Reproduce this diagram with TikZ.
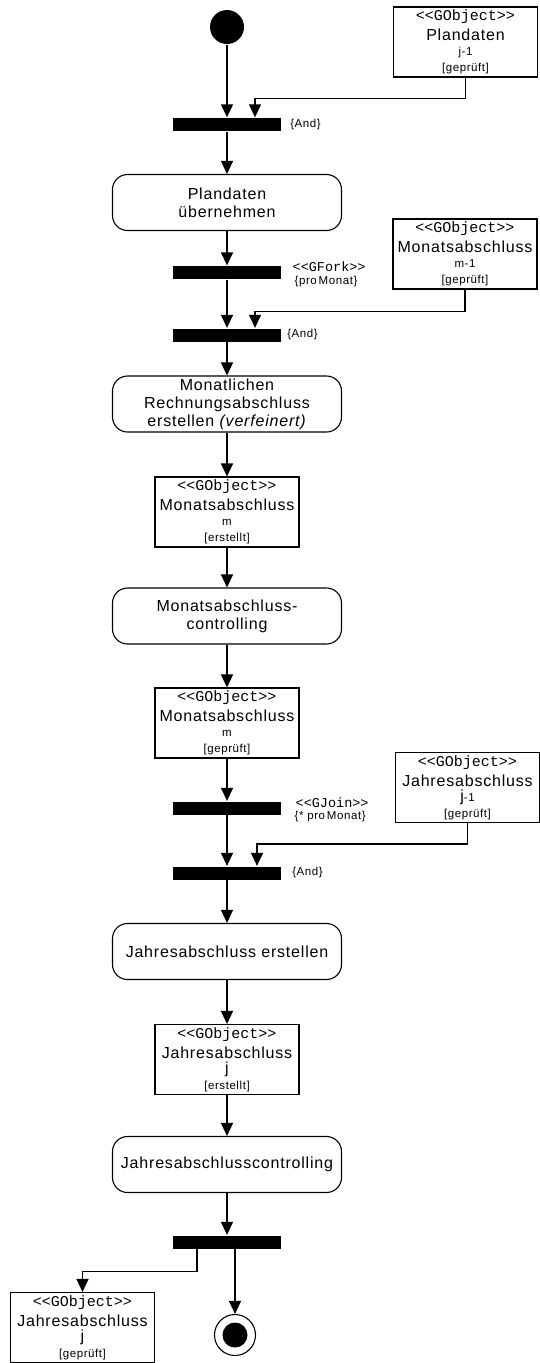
\documentclass[tikz,border=0pt]{standalone}
\usepackage{fontspec}
\setmainfont{Liberation Sans}[LetterSpace=5]
\newfontfamily\gmono{Liberation Mono}
\usetikzlibrary{arrows.meta,positioning}
\newcommand\stereo[1]{{\gmono<{}<#1>{}>}}
\newcommand\gbig{\fontsize{16}{16}\selectfont}
\newcommand\gst{\fontsize{15}{15}\selectfont}

\begin{document}
\begin{tikzpicture}[x=1pt, y=-1pt, line width=1.3pt, >={Triangle[width=12pt,length=13pt]},
	act/.style={draw, line width=1.1pt, rounded corners=15pt, minimum width=229pt, minimum height=56pt, inner sep=2pt, align=center, font=\fontsize{16}{18}\selectfont},
	obj/.style={draw, line width=1.1pt, minimum width=144pt, minimum height=70pt, inner sep=0pt, align=center, font=\fontsize{11.5}{15}\selectfont},
	bar/.style={fill, minimum width=108pt, minimum height=13pt, inner sep=0pt},
	lbl/.style={font=\fontsize{11.5}{13}\selectfont, inner sep=0pt, anchor=west}]
		\useasboundingbox (0,0) rectangle (540,1363);
		% start and end
		\node[circle, fill, minimum size=34pt, inner sep=0pt] (start) at (227,27) {};
		\node[circle, draw, line width=1.1pt, minimum size=41pt, inner sep=0pt, path picture={\fill (path picture bounding box.center) circle (12.5pt);}] (endn) at (235,1335) {};
		% synchronisation bars
		\foreach \n/\y in {bar1/124.5, bar2/272.5, bar3/335, bar4/808, bar5/873, bar6/1242}{
		\node[bar] (\n) at (227,\y) {};
		}
		% activities
		\node[act] (act1) at (227,202.5) {Plandaten\\übernehmen};
		\node[act] (act2) at (227,404) {Monatlichen\\Rechnungsabschluss\\erstellen \textit{(verfeinert)}};
		\node[act] (act3) at (227,616) {Monatsabschluss-\\controlling};
		\node[act] (act4) at (227,951.5) {Jahresabschluss erstellen};
		\node[act] (act5) at (227,1164.5) {Jahresabschlusscontrolling};
		% objects
		\node[obj] (pdj) at (465.5,42) {{\gst\stereo{GObject}}\\[5pt]{\gbig Plandaten}\\j-1\\[1pt]{[geprüft]}};
		\node[obj] (mm1) at (465,254) {{\gst\stereo{GObject}}\\[5pt]{\gbig Monatsabschluss}\\m-1\\[1pt]{[geprüft]}};
		\node[obj] (mme) at (227,512) {{\gst\stereo{GObject}}\\[5pt]{\gbig Monatsabschluss}\\m\\[1pt]{[erstellt]}};
		\node[obj] (mmg) at (227,723) {{\gst\stereo{GObject}}\\[5pt]{\gbig Monatsabschluss}\\m\\[1pt]{[geprüft]}};
		\node[obj] (jj1) at (467.5,787.5) {{\gst\stereo{GObject}}\\[5pt]{\gbig Jahresabschluss}\\{\gbig j}-1\\[1pt]{[geprüft]}};
		\node[obj] (jje) at (227,1059.5) {{\gst\stereo{GObject}}\\[5pt]{\gbig Jahresabschluss}\\{\gbig j}\\[1pt]{[erstellt]}};
		\node[obj] (jjg) at (82.5,1327.5) {{\gst\stereo{GObject}}\\[5pt]{\gbig Jahresabschluss}\\{\gbig j}\\[1pt]{[geprüft]}};
		% labels
		\node[lbl, right=8pt of bar1] (and1) {\{And\}};
		\node[lbl, right=5pt of bar3] (and2) {\{And\}};
		\node[lbl, right=10pt of bar5] (and3) {\{And\}};
		\node[lbl] (forkst) at (292,267) {\fontsize{13.5}{13.5}\selectfont\stereo{GFork}};
		\node[lbl] (forkcnt) at (294,282) {\{pro\,Monat\}};
		\node[lbl] (joinst) at (295,803) {\fontsize{13.5}{13.5}\selectfont\stereo{GJoin}};
		\node[lbl] (joincnt) at (294,817) {\{* pro\,Monat\}};
		% control flow
		\foreach \a/\b in {start/bar1, bar1/act1, act1/bar2, bar2/bar3, bar3/act2, act2/mme, mme/act3, act3/mmg, mmg/bar4, bar4/bar5, bar5/act4, act4/jje, jje/act5, act5/bar6}{
		\draw[->] (\a)--(\b);
		}
		% object flow
		\draw[->] (pdj.south)--++(0,21)-|([xshift=28pt]bar1.north);
		\draw[->] (mm1.south)--++(0,22)-|([xshift=28pt]bar3.north);
		\draw[->] (jj1.south)--++(0,21)-|([xshift=30pt]bar5.north);
		\draw[->] ([xshift=-30pt]bar6.south)--++(0,22)-|(jjg.north);
		\draw[->] ([xshift=8pt]bar6.south)--(endn.north);
	\end{tikzpicture}
\end{document}
